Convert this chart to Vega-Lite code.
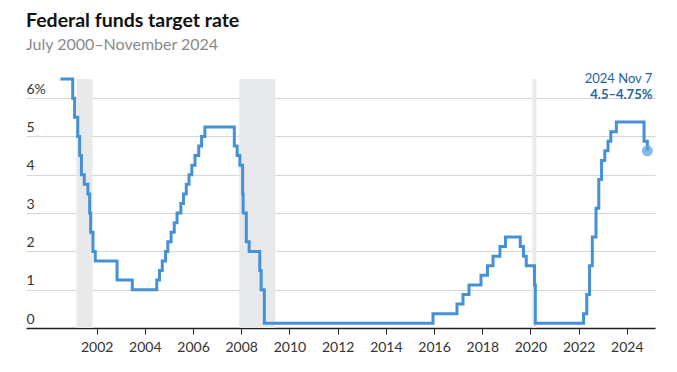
{
  "$schema": "https://vega.github.io/schema/vega-lite/v6.json",
  "width": 629,
  "height": 249,
  "autosize": {"type": "none"},
  "padding": {"left": 26, "top": 79, "right": 22, "bottom": 44},
  "config": {
    "view": {"stroke": null},
    "font": "Lato",
    "background": "white"
  },
  "title": {
    "text": "Federal funds target rate",
    "subtitle": "July 2000\u2013November 2024",
    "anchor": "start",
    "frame": "group",
    "offset": 19,
    "fontSize": 19.5,
    "fontWeight": "bold",
    "color": "#111111",
    "subtitleFontSize": 16,
    "subtitleColor": "#8a8a8a",
    "subtitlePadding": 6,
    "font": "Lato",
    "subtitleFont": "Lato"
  },
  "datasets": {
    "rate": [
      {"date": "2000-07-01", "rate": 6.5},
      {"date": "2001-01-03", "rate": 6.0},
      {"date": "2001-01-31", "rate": 5.5},
      {"date": "2001-03-20", "rate": 5.0},
      {"date": "2001-04-18", "rate": 4.5},
      {"date": "2001-05-15", "rate": 4.0},
      {"date": "2001-06-27", "rate": 3.75},
      {"date": "2001-08-21", "rate": 3.5},
      {"date": "2001-09-17", "rate": 3.0},
      {"date": "2001-10-02", "rate": 2.5},
      {"date": "2001-11-06", "rate": 2.0},
      {"date": "2001-12-11", "rate": 1.75},
      {"date": "2002-11-06", "rate": 1.25},
      {"date": "2003-06-25", "rate": 1.0},
      {"date": "2004-06-30", "rate": 1.25},
      {"date": "2004-08-10", "rate": 1.5},
      {"date": "2004-09-21", "rate": 1.75},
      {"date": "2004-11-10", "rate": 2.0},
      {"date": "2004-12-14", "rate": 2.25},
      {"date": "2005-02-02", "rate": 2.5},
      {"date": "2005-03-22", "rate": 2.75},
      {"date": "2005-05-03", "rate": 3.0},
      {"date": "2005-06-30", "rate": 3.25},
      {"date": "2005-08-09", "rate": 3.5},
      {"date": "2005-09-20", "rate": 3.75},
      {"date": "2005-11-01", "rate": 4.0},
      {"date": "2005-12-13", "rate": 4.25},
      {"date": "2006-01-31", "rate": 4.5},
      {"date": "2006-03-28", "rate": 4.75},
      {"date": "2006-05-10", "rate": 5.0},
      {"date": "2006-06-29", "rate": 5.25},
      {"date": "2007-09-18", "rate": 4.75},
      {"date": "2007-10-31", "rate": 4.5},
      {"date": "2007-12-11", "rate": 4.25},
      {"date": "2008-01-22", "rate": 3.5},
      {"date": "2008-01-30", "rate": 3.0},
      {"date": "2008-03-18", "rate": 2.25},
      {"date": "2008-04-30", "rate": 2.0},
      {"date": "2008-10-08", "rate": 1.5},
      {"date": "2008-10-29", "rate": 1.0},
      {"date": "2008-12-16", "rate": 0.125},
      {"date": "2015-12-16", "rate": 0.375},
      {"date": "2016-12-14", "rate": 0.625},
      {"date": "2017-03-15", "rate": 0.875},
      {"date": "2017-06-14", "rate": 1.125},
      {"date": "2017-12-13", "rate": 1.375},
      {"date": "2018-03-21", "rate": 1.625},
      {"date": "2018-06-13", "rate": 1.875},
      {"date": "2018-09-26", "rate": 2.125},
      {"date": "2018-12-19", "rate": 2.375},
      {"date": "2019-07-31", "rate": 2.125},
      {"date": "2019-09-18", "rate": 1.875},
      {"date": "2019-10-30", "rate": 1.625},
      {"date": "2020-03-03", "rate": 1.125},
      {"date": "2020-03-15", "rate": 0.125},
      {"date": "2022-03-16", "rate": 0.375},
      {"date": "2022-05-04", "rate": 0.875},
      {"date": "2022-06-15", "rate": 1.625},
      {"date": "2022-07-27", "rate": 2.375},
      {"date": "2022-09-21", "rate": 3.125},
      {"date": "2022-11-02", "rate": 3.875},
      {"date": "2022-12-14", "rate": 4.375},
      {"date": "2023-02-01", "rate": 4.625},
      {"date": "2023-03-22", "rate": 4.875},
      {"date": "2023-05-03", "rate": 5.125},
      {"date": "2023-07-26", "rate": 5.375},
      {"date": "2024-09-18", "rate": 4.875},
      {"date": "2024-11-07", "rate": 4.625}
    ],
    "recessions": [
      {"start": "2001-03-01", "end": "2001-11-01"},
      {"start": "2007-12-01", "end": "2009-06-01"},
      {"start": "2020-02-01", "end": "2020-04-01"}
    ],
    "last": [
      {"date": "2024-11-07", "rate": 4.625, "label1": "2024 Nov 7", "label2": "4.5\u20134.75%"}
    ]
  },
  "layer": [
    {
      "data": {"name": "recessions"},
      "mark": {"type": "rect", "color": "#e8e9eb"},
      "encoding": {
        "x": {
          "field": "start", "type": "temporal",
          "scale": {"domain": ["1999-01-26", "2025-03-03"]},
          "axis": {
            "values": ["2002-01-01", "2004-01-01", "2006-01-01", "2008-01-01", "2010-01-01", "2012-01-01", "2014-01-01", "2016-01-01", "2018-01-01", "2020-01-01", "2022-01-01", "2024-01-01"],
            "format": "%Y",
            "title": null,
            "grid": false,
            "domainColor": "#222222",
            "domainWidth": 1.5,
            "tickColor": "#222222",
            "tickSize": 6,
            "labelFontSize": 14,
            "labelColor": "#333333",
            "labelPadding": 6,
            "labelFont": "Lato"
          }
        },
        "x2": {"field": "end"}
      }
    },
    {
      "data": {"name": "rate"},
      "mark": {"type": "line", "interpolate": "step-after", "color": "#4591d6", "strokeWidth": 3},
      "encoding": {
        "x": {"field": "date", "type": "temporal"},
        "y": {
          "field": "rate", "type": "quantitative",
          "scale": {"domain": [0, 6.5], "nice": false},
          "axis": {
            "values": [0, 1, 2, 3, 4, 5, 6],
            "labelExpr": "datum.value == 6 ? '6%' : datum.label",
            "title": null,
            "domain": false,
            "ticks": false,
            "grid": true,
            "gridColor": "#d6d6d6",
            "gridWidth": 1,
            "labelAlign": "left",
            "labelBaseline": "alphabetic",
            "labelPadding": 0,
            "labelOffset": -5,
            "labelFontSize": 14,
            "labelColor": "#333333",
            "labelFont": "Lato"
          }
        }
      }
    },
    {
      "data": {"name": "last"},
      "mark": {"type": "circle", "size": 120, "color": "#5ea3de", "opacity": 0.75},
      "encoding": {
        "x": {"field": "date", "type": "temporal"},
        "y": {"field": "rate", "type": "quantitative"}
      }
    },
    {
      "data": {"name": "last"},
      "mark": {"type": "text", "align": "right", "baseline": "middle", "dx": 5, "fontSize": 13, "color": "#1f63a0", "font": "Lato"},
      "encoding": {
        "x": {"field": "date", "type": "temporal"},
        "y": {"datum": 6.5, "type": "quantitative"},
        "text": {"field": "label1"}
      }
    },
    {
      "data": {"name": "last"},
      "mark": {"type": "text", "align": "right", "baseline": "middle", "dx": 5, "dy": 16, "fontSize": 13, "fontWeight": "bold", "color": "#1f63a0", "font": "Lato"},
      "encoding": {
        "x": {"field": "date", "type": "temporal"},
        "y": {"datum": 6.5, "type": "quantitative"},
        "text": {"field": "label2"}
      }
    }
  ]
}
